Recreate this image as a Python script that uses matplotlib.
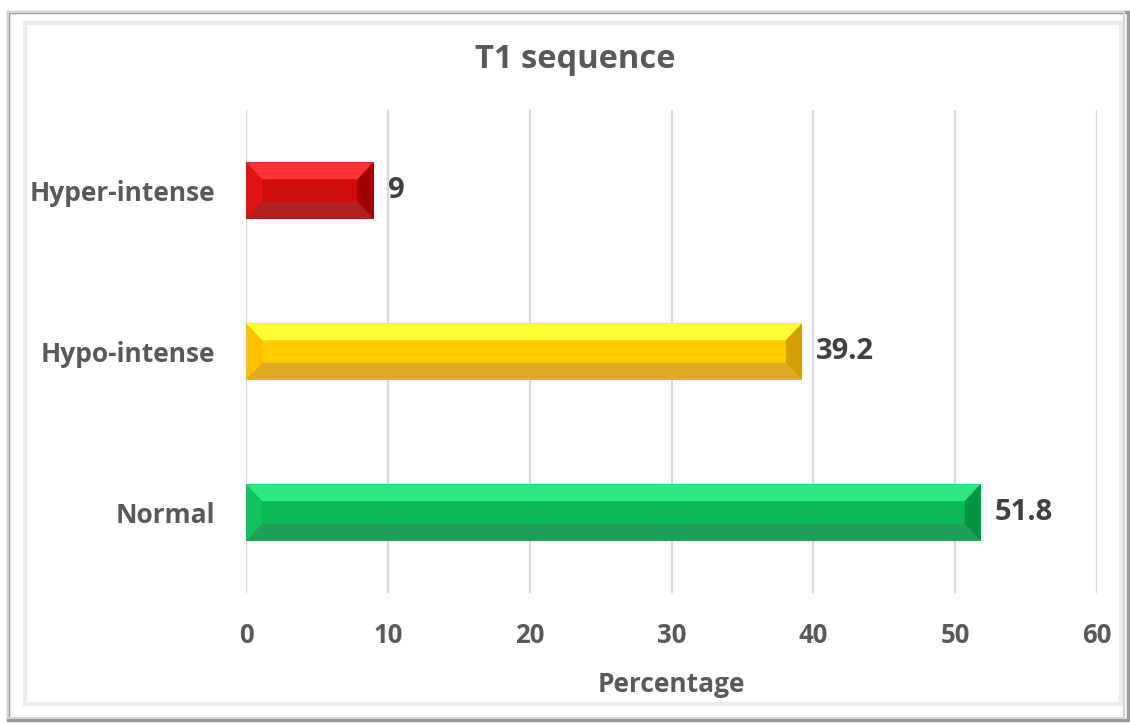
import matplotlib

matplotlib.use("Agg")

import matplotlib.pyplot as plt
from matplotlib.patches import Rectangle

# T1 sequence signal distribution (%)
categories = ["Normal", "Hypo-intense", "Hyper-intense"]
values = [51.8, 39.2, 9]
value_labels = ["51.8", "39.2", "9"]
x_ticks = [0, 10, 20, 30, 40, 50, 60]

# bevel shades per bar: front, top, bottom, left, right
SHADES = {
    "Normal": ["#0bb955", "#2fe884", "#1f9f58", "#10c35f", "#009444"],
    "Hypo-intense": ["#ffcc00", "#ffff33", "#e0aa22", "#ffc000", "#d4a000"],
    "Hyper-intense": ["#d00b0b", "#ff3333", "#b02020", "#e11212", "#a00000"],
}

TEXT = "#595959"
GRID = "#d9d9d9"
BAR_H = 0.35
BEVEL_X = 1.13
BEVEL_Y = 0.105

plt.rcParams["font.family"] = ["Open Sans", "DejaVu Sans"]
plt.rcParams["font.weight"] = "bold"

fig = plt.figure(figsize=(11.3, 7.24), dpi=100)
fig.patch.set_facecolor("white")

# chart frame with a soft shadow
fig.patches.append(Rectangle((0.007, 0.006), 0.991, 0.978, transform=fig.transFigure,
                             facecolor="none", edgecolor="#9a9a9a", lw=2.5, zorder=-3))
fig.patches.append(Rectangle((0.007, 0.008), 0.988, 0.976, transform=fig.transFigure,
                             facecolor="none", edgecolor="#d4d4d4", lw=1.5, zorder=-2))
fig.patches.append(Rectangle((0.022, 0.028), 0.97, 0.94, transform=fig.transFigure,
                             facecolor="none", edgecolor="#ececec", lw=3, zorder=-1))

ax = fig.add_axes([0.2177, 0.181, 0.7531, 0.667])
ax.set_zorder(5)
ax.set_facecolor("none")
ax.set_xlim(0, 60)
ax.set_ylim(-0.5, 2.5)

for sp in ax.spines.values():
    sp.set_visible(False)
ax.set_xticks(x_ticks)
ax.set_xticklabels([str(t) for t in x_ticks], fontsize=18.5, color=TEXT, fontweight="bold")
ax.set_yticks(range(len(categories)))
ax.set_yticklabels(categories, fontsize=19, color=TEXT, fontweight="bold")
ax.tick_params(axis="x", length=0, pad=21)
ax.tick_params(axis="y", length=0, pad=22)
ax.grid(axis="x", color=GRID, lw=1.6, zorder=0)
ax.set_axisbelow(True)
ax.set_xlabel("Percentage", fontsize=19, color=TEXT, fontweight="bold", labelpad=16)

for yi, (cat, val, lab) in enumerate(zip(categories, values, value_labels)):
    front, top, bottom, left, right = SHADES[cat]
    ax.barh(yi, val, height=BAR_H, color=front, zorder=2)
    y0, y1 = yi - BAR_H / 2, yi + BAR_H / 2
    ax.fill([0, val, val - BEVEL_X, BEVEL_X], [y1, y1, y1 - BEVEL_Y, y1 - BEVEL_Y],
            color=top, lw=0, zorder=3)
    ax.fill([0, val, val - BEVEL_X, BEVEL_X], [y0, y0, y0 + BEVEL_Y, y0 + BEVEL_Y],
            color=bottom, lw=0, zorder=3)
    ax.fill([0, BEVEL_X, BEVEL_X, 0], [y0, y0 + BEVEL_Y, y1 - BEVEL_Y, y1],
            color=left, lw=0, zorder=3)
    ax.fill([val, val - BEVEL_X, val - BEVEL_X, val], [y0, y0 + BEVEL_Y, y1 - BEVEL_Y, y1],
            color=right, lw=0, zorder=3)
    ax.annotate(lab, (val, yi), xytext=(10, 0), textcoords="offset points",
                ha="left", va="center", fontsize=21, color="#404040", fontweight="bold")

fig.text(0.509, 0.918, "T1 sequence", ha="center", va="center", fontsize=23.5,
         color=TEXT, fontweight="bold")

fig.savefig("out.png", dpi=100)
